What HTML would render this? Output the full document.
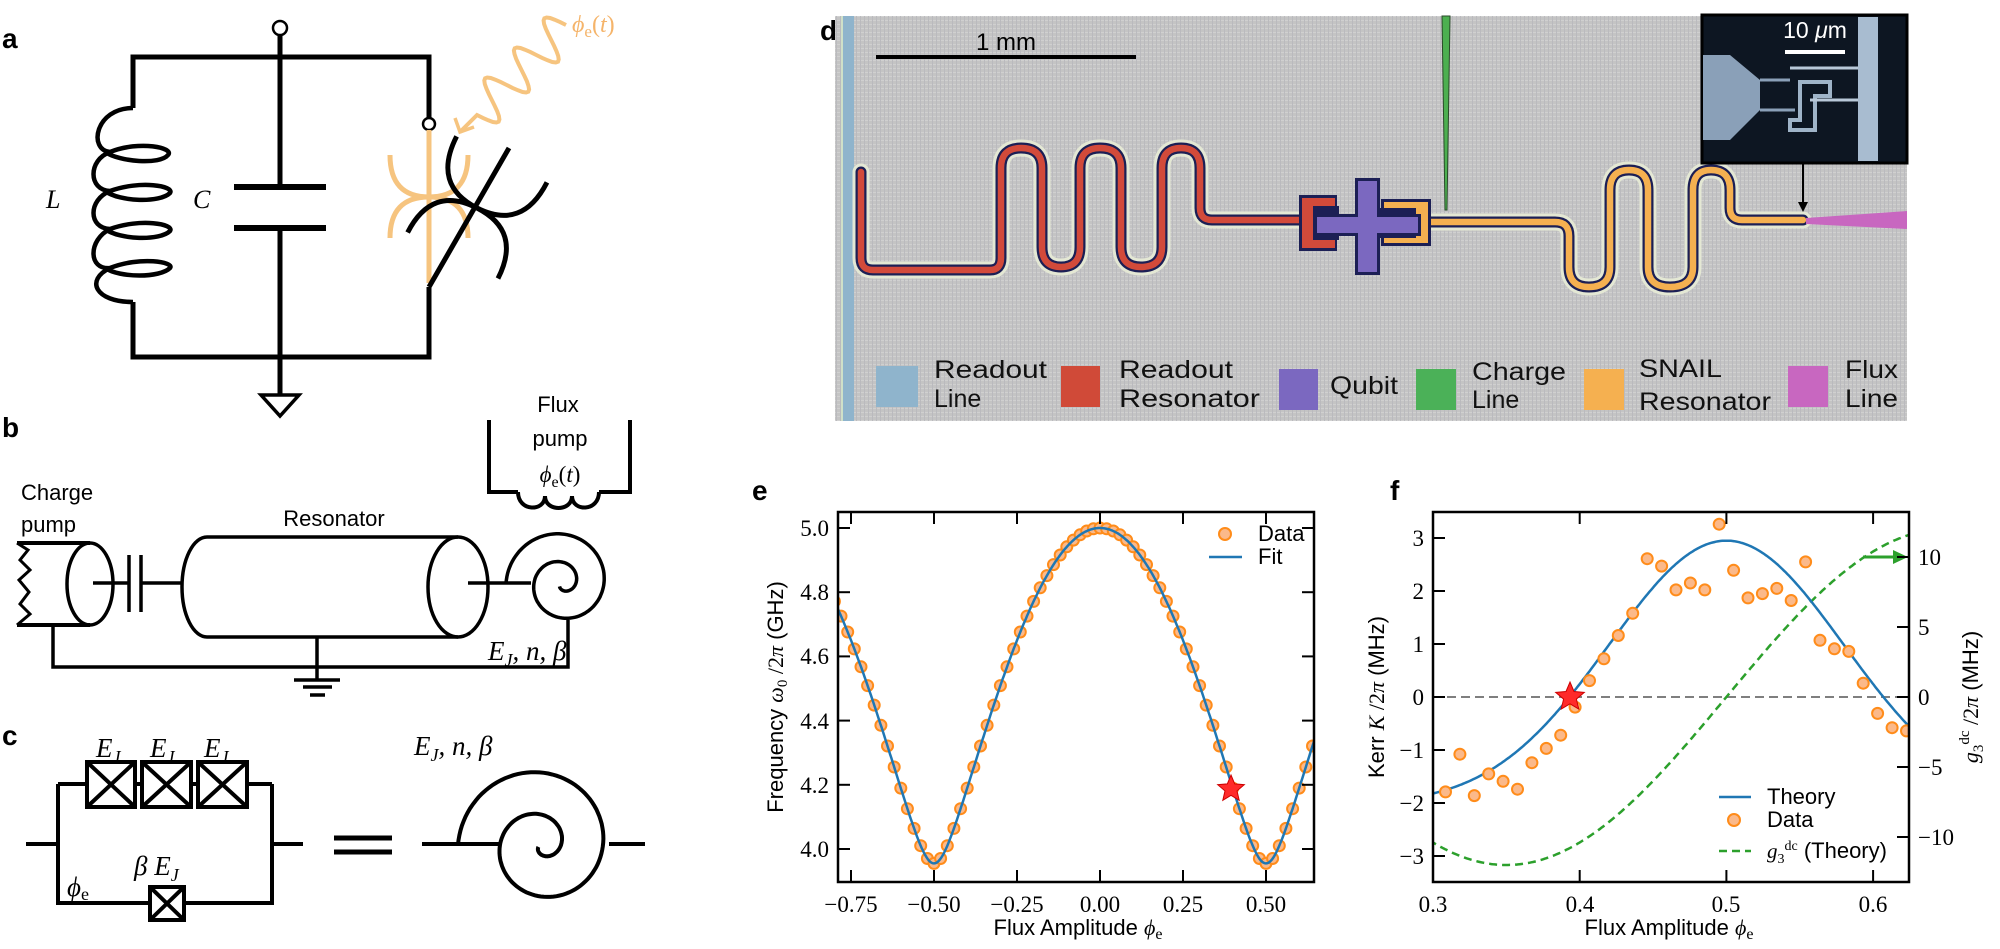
<!DOCTYPE html>
<html><head><meta charset="utf-8"><style>
html,body{margin:0;padding:0;background:#fff;}
svg{display:block;}
.sans{font-family:"Liberation Sans",sans-serif;}
.serif{font-family:"Liberation Serif",serif;}
.tk{font-family:"Liberation Serif",serif;font-size:23px;fill:#000;}
.lbl{font-family:"Liberation Sans",sans-serif;font-size:22px;fill:#000;}
.pl{font-family:"Liberation Sans",sans-serif;font-size:28px;font-weight:bold;fill:#000;}
.leg{font-family:"Liberation Sans",sans-serif;font-size:25px;fill:#111;}
</style></head><body>
<svg id="s" width="2000" height="949" viewBox="0 0 2000 949" xmlns="http://www.w3.org/2000/svg">
<defs>
<pattern id="tex" width="4" height="4" patternUnits="userSpaceOnUse">
<rect width="4" height="4" fill="#c4c4c4"/><rect width="4" height="1" fill="#d0d0d0"/><rect width="1" height="4" fill="#bababe"/>
</pattern>
<clipPath id="ce"><rect x="838" y="512" width="476" height="370"/></clipPath>
<clipPath id="cf"><rect x="1433" y="512" width="476" height="370"/></clipPath>
</defs>

<text class="pl" x="2" y="48">a</text>
<text class="pl" x="2" y="437">b</text>
<text class="pl" x="2" y="745">c</text>
<text class="pl" x="820" y="40">d</text>
<text class="pl" x="752" y="500">e</text>
<text class="pl" x="1390" y="500">f</text>

<!-- Panel a -->
<g fill="none" stroke="#000" stroke-width="5" stroke-linecap="butt">
<path d="M133,108 V57 H429 V122"/>
<path d="M133,302 V357 H429 V287"/>
<path d="M280,35 V187 M280,228 V395"/>
<path d="M234,187 H326 M234,228 H326" stroke-width="6"/>
<path d="M261,395 H299 L280,416 Z" stroke-width="3.5"/>
<path d="M133,108 C95,108 88,150 110,152 C140,140 175,148 168,155 C160,165 120,162 105,152 M110,152 C88,160 88,190 110,191 C140,180 175,186 170,193 C160,203 120,202 105,191 M110,191 C88,200 88,228 110,229 C140,218 175,224 170,231 C160,241 120,240 105,229 M110,229 C88,240 88,270 110,268 C140,256 175,262 170,268 C160,278 120,278 105,268 M110,268 C85,280 95,302 133,302" stroke-width="4.5"/>
</g>
<circle cx="280" cy="28" r="7" fill="#fff" stroke="#000" stroke-width="2.5"/>
<circle cx="429" cy="124" r="6" fill="#fff" stroke="#000" stroke-width="2.5"/>
<text class="serif" x="46" y="208" font-size="26" font-style="italic">L</text>
<text class="serif" x="193" y="208" font-size="26" font-style="italic">C</text>
<g fill="none" stroke="#f6c47f" stroke-width="5">
<path d="M429,130 V283"/>
<path d="M390,155 Q390,197 429,197 Q468,197 468,155 M390,238 Q390,197 429,197 Q468,197 468,238"/>
<path id="wave" d="" stroke-width="4"/>
<path d="M455,118 L460,132 L474,127" stroke-width="3.5"/>
</g>
<g fill="none" stroke="#000" stroke-width="5">
<path d="M429,287 L509,148"/>
<g transform="translate(477,208) rotate(27) scale(1.3)"><path d="M-39,-42 Q-39,0 0,0 Q39,0 39,-42 M-39,41 Q-39,0 0,0 Q39,0 39,41" stroke-width="3.8"/></g>
</g>
<text class="serif" x="572" y="32" font-size="24" font-style="italic" fill="#f5b46a">ϕ<tspan font-style="normal" font-size="17" dy="5">e</tspan><tspan font-style="normal" dy="-5">(</tspan>t<tspan font-style="normal">)</tspan></text>

<!-- Panel b -->
<text class="sans" x="558" y="412" font-size="22" text-anchor="middle">Flux</text>
<text class="sans" x="560" y="446" font-size="22" text-anchor="middle">pump</text>
<text class="serif" x="560" y="482" font-size="23" font-style="italic" text-anchor="middle">ϕ<tspan font-style="normal" font-size="16" dy="5">e</tspan><tspan font-style="normal" dy="-5">(</tspan>t<tspan font-style="normal">)</tspan></text>
<g fill="none" stroke="#000" stroke-width="4">
<path d="M489,420 V492 H518 M599,492 H630 V420"/>
<path d="M518,492 C518,512 545,512 545,496 C545,512 572,512 572,496 C572,512 599,512 599,492"/>
</g>
<text class="sans" x="21" y="500" font-size="22">Charge</text>
<text class="sans" x="21" y="532" font-size="22">pump</text>
<text class="sans" x="334" y="526" font-size="22" text-anchor="middle">Resonator</text>
<g fill="none" stroke="#000" stroke-width="3.5">
<path d="M17,543 H90 M17,625 H90" stroke-width="4"/>
<path d="M17,543 L28,550 L20,560 L30,570 L19,580 L29,592 L20,604 L30,614 L17,625" stroke-width="3"/>
<ellipse cx="90" cy="584" rx="23" ry="41"/>
<path d="M93,583 H129 M141,583 H182"/>
<path d="M129,555 V612 M141,555 V612"/>
<path d="M207,537 H458 M207,637 H458"/>
<path d="M207,537 A25,50 0 0 0 207,637"/>
<ellipse cx="458" cy="587" rx="30" ry="50"/>
<path d="M468,583 H531"/>
<path d="M53,625 V667 H568 V620"/>
<path d="M317,637 V680"/>
<path d="M294,680 H340 M303,687 H332 M310,695 H325"/>
<path id="spb" d=""/>
</g>
<text class="serif" x="488" y="660" font-size="27" font-style="italic">E<tspan font-size="18" dy="6">J</tspan><tspan dy="-6">, n, β</tspan></text>

<!-- Panel c -->
<g class="serif" font-size="27" font-style="italic">
<text x="96" y="757">E<tspan font-size="18" dy="6">J</tspan></text>
<text x="150" y="757">E<tspan font-size="18" dy="6">J</tspan></text>
<text x="204" y="757">E<tspan font-size="18" dy="6">J</tspan></text>
<text x="414" y="755">E<tspan font-size="18" dy="6">J</tspan><tspan dy="-6">, n, β</tspan></text>
<text x="134" y="875">β E<tspan font-size="18" dy="6">J</tspan></text>
<text x="67" y="896">ϕ<tspan font-style="normal" font-size="18" dy="4">e</tspan></text>
</g>
<g fill="none" stroke="#000" stroke-width="4">
<path d="M26,844 H58 M58,784 V903 H150 M184,903 H272 V784 M272,844 H303"/>
<path d="M58,784 H87 M135,784 H142 M191,784 H198 M247,784 H272"/>
<rect x="87" y="762" width="48" height="45"/><path d="M87,762 L135,807 M135,762 L87,807"/>
<rect x="142" y="762" width="49" height="45"/><path d="M142,762 L191,807 M191,762 L142,807"/>
<rect x="198" y="762" width="49" height="45"/><path d="M198,762 L247,807 M247,762 L198,807"/>
<rect x="150" y="887" width="34" height="33"/><path d="M150,887 L184,920 M184,887 L150,920"/>
<path d="M334,838 H392 M334,852 H392" stroke-width="5"/>
<path d="M422,844 H500 M609,844 H645"/>
<path id="spc" d=""/>
</g>

<!-- Panel d -->
<rect x="835" y="16" width="1072" height="405" fill="url(#tex)"/>
<rect x="843" y="16" width="11" height="405" fill="#8fb4cc"/>
<rect x="841" y="16" width="2" height="405" fill="#cfe0c8"/>
<rect x="876" y="55" width="260" height="4" fill="#000"/>
<text class="sans" x="1006" y="50" font-size="24" text-anchor="middle">1 mm</text>
<path d="M1442,16 H1450 L1447,210 H1445 Z" fill="#4caf50" stroke="#2a4a2a" stroke-width="1"/>
<g fill="none" stroke-linecap="round" stroke-linejoin="round">
<path d="M861,172 V258 Q861,270 873,270 H990 Q1001,270 1001,258 V168 Q1001,148 1021,148 Q1042,148 1042,168 V247 Q1042,267 1061,267 Q1080,267 1080,247 V168 Q1080,148 1100,148 Q1121,148 1121,168 V247 Q1121,267 1141,267 Q1162,267 1162,247 V168 Q1162,148 1181,148 Q1200,148 1200,168 V208 Q1200,220 1212,220 H1309" stroke="#e4e8d4" stroke-width="17"/>
<path d="M861,172 V258 Q861,270 873,270 H990 Q1001,270 1001,258 V168 Q1001,148 1021,148 Q1042,148 1042,168 V247 Q1042,267 1061,267 Q1080,267 1080,247 V168 Q1080,148 1100,148 Q1121,148 1121,168 V247 Q1121,267 1141,267 Q1162,267 1162,247 V168 Q1162,148 1181,148 Q1200,148 1200,168 V208 Q1200,220 1212,220 H1309" stroke="#1c1f55" stroke-width="11"/>
<path d="M861,172 V258 Q861,270 873,270 H990 Q1001,270 1001,258 V168 Q1001,148 1021,148 Q1042,148 1042,168 V247 Q1042,267 1061,267 Q1080,267 1080,247 V168 Q1080,148 1100,148 Q1121,148 1121,168 V247 Q1121,267 1141,267 Q1162,267 1162,247 V168 Q1162,148 1181,148 Q1200,148 1200,168 V208 Q1200,220 1212,220 H1309" stroke="#d24a3a" stroke-width="6.5"/>
<path d="M1428,222 H1555 Q1569,222 1569,236 V267 Q1569,287 1589,287 Q1610,287 1610,267 V190 Q1610,170 1629,170 Q1648,170 1648,190 V267 Q1648,287 1670,287 Q1693,287 1693,267 V190 Q1693,170 1711,170 Q1730,170 1730,190 V208 Q1730,220 1742,220 H1803" stroke="#e4e8d4" stroke-width="17"/>
<path d="M1428,222 H1555 Q1569,222 1569,236 V267 Q1569,287 1589,287 Q1610,287 1610,267 V190 Q1610,170 1629,170 Q1648,170 1648,190 V267 Q1648,287 1670,287 Q1693,287 1693,267 V190 Q1693,170 1711,170 Q1730,170 1730,190 V208 Q1730,220 1742,220 H1803" stroke="#1c1f55" stroke-width="11"/>
<path d="M1428,222 H1555 Q1569,222 1569,236 V267 Q1569,287 1589,287 Q1610,287 1610,267 V190 Q1610,170 1629,170 Q1648,170 1648,190 V267 Q1648,287 1670,287 Q1693,287 1693,267 V190 Q1693,170 1711,170 Q1730,170 1730,190 V208 Q1730,220 1742,220 H1803" stroke="#f5b050" stroke-width="6.5"/>
</g>
<rect x="1299" y="195" width="38" height="56" fill="#1c1f55"/>
<rect x="1302" y="198" width="33" height="50" fill="#d24a3a"/>
<rect x="1313" y="206" width="26" height="34" fill="#1c1f55"/>
<rect x="1381" y="199" width="50" height="47" fill="#1c1f55"/>
<rect x="1384" y="202" width="44" height="41" fill="#f5b050"/>
<rect x="1378" y="208" width="38" height="30" fill="#1c1f55"/>
<path d="M1355,178 H1380 V214 H1421 V236 H1380 V275 H1355 V236 H1314 V214 H1355 Z" fill="#1c1f55"/>
<path d="M1358,181 H1377 V217 H1418 V233 H1377 V272 H1358 V233 H1317 V217 H1358 Z" fill="#7b68c0"/>
<path d="M1806,218 L1907,211 V229 L1806,224 Z" fill="#c867c0"/>
<rect x="1702" y="15" width="205" height="148" fill="#0d1622" stroke="#000" stroke-width="3"/>
<rect x="1858" y="17" width="20" height="144" fill="#a8bcd0"/>
<path d="M1703,55 H1730 L1760,80 V110 L1730,140 H1703 Z" fill="#8aa0b8"/>
<path d="M1760,80 H1790 M1760,110 H1795" stroke="#8aa0b8" stroke-width="3"/>
<path d="M1800,82 H1830 V96 H1815 V130 H1790 V120 H1800 Z" fill="none" stroke="#9fb4c8" stroke-width="4"/>
<path d="M1790,68 H1858 M1810,100 H1858" stroke="#b8c8d8" stroke-width="3"/>
<rect x="1785" y="50" width="60" height="4" fill="#fff"/>
<text class="sans" x="1815" y="38" font-size="23" fill="#fff" text-anchor="middle">10 <tspan font-style="italic">μ</tspan>m</text>
<path d="M1803,163 V205" stroke="#000" stroke-width="2"/>
<path d="M1798,202 L1803,212 L1808,202 Z" fill="#000"/>
<rect x="876" y="366" width="42" height="41" fill="#8fb4cc"/>
<rect x="1061" y="366" width="39" height="41" fill="#d04a38"/>
<rect x="1279" y="369" width="39" height="41" fill="#7b68c0"/>
<rect x="1416" y="369" width="40" height="41" fill="#4bb158"/>
<rect x="1584" y="369" width="40" height="41" fill="#f5b050"/>
<rect x="1788" y="366" width="40" height="41" fill="#c867c0"/>
<g class="leg">
<text x="934" y="378" textLength="113" lengthAdjust="spacingAndGlyphs">Readout</text>
<text x="934" y="407">Line</text>
<text x="1119" y="378" textLength="114" lengthAdjust="spacingAndGlyphs">Readout</text>
<text x="1119" y="407" textLength="141" lengthAdjust="spacingAndGlyphs">Resonator</text>
<text x="1330" y="394" textLength="68" lengthAdjust="spacingAndGlyphs">Qubit</text>
<text x="1472" y="380" textLength="94" lengthAdjust="spacingAndGlyphs">Charge</text>
<text x="1472" y="408">Line</text>
<text x="1639" y="377" textLength="83" lengthAdjust="spacingAndGlyphs">SNAIL</text>
<text x="1639" y="410" textLength="132" lengthAdjust="spacingAndGlyphs">Resonator</text>
<text x="1845" y="378" textLength="53" lengthAdjust="spacingAndGlyphs">Flux</text>
<text x="1845" y="407" textLength="53" lengthAdjust="spacingAndGlyphs">Line</text>
</g>

<!-- Panel e -->
<g id="eplot" clip-path="url(#ce)"></g>
<rect x="838" y="512" width="476" height="370" fill="none" stroke="#000" stroke-width="2.5"/>
<g id="eticks" stroke="#000" stroke-width="2"></g>
<g class="tk" text-anchor="middle">
<text x="851" y="912">−0.75</text><text x="934" y="912">−0.50</text><text x="1017" y="912">−0.25</text>
<text x="1100" y="912">0.00</text><text x="1183" y="912">0.25</text><text x="1266" y="912">0.50</text>
</g>
<g class="tk" text-anchor="end">
<text x="829" y="536">5.0</text><text x="829" y="600">4.8</text><text x="829" y="664">4.6</text>
<text x="829" y="729">4.4</text><text x="829" y="793">4.2</text><text x="829" y="857">4.0</text>
</g>
<text class="lbl" x="1078" y="935" text-anchor="middle">Flux Amplitude <tspan class="serif" font-style="italic">ϕ</tspan><tspan class="serif" font-size="16" dy="4">e</tspan></text>
<text class="lbl" transform="translate(783,697) rotate(-90)" text-anchor="middle">Frequency <tspan class="serif" font-style="italic">ω</tspan><tspan class="serif" font-size="15" dy="4">0</tspan><tspan class="serif" dy="-4"> /2</tspan><tspan class="serif" font-style="italic">π</tspan> (GHz)</text>
<circle cx="1225" cy="534" r="6" fill="#fbb98a" stroke="#ff8c1a" stroke-width="2"/>
<text class="lbl" x="1258" y="541" font-size="20">Data</text>
<line x1="1209" y1="557" x2="1242" y2="557" stroke="#1f77b4" stroke-width="2.5"/>
<text class="lbl" x="1258" y="564" font-size="20">Fit</text>

<!-- Panel f -->
<g id="fplot" clip-path="url(#cf)"></g>
<rect x="1433" y="512" width="476" height="370" fill="none" stroke="#000" stroke-width="2.5"/>
<g id="fticks" stroke="#000" stroke-width="2"></g>
<g class="tk" text-anchor="middle">
<text x="1433" y="912">0.3</text><text x="1580" y="912">0.4</text><text x="1726" y="912">0.5</text><text x="1873" y="912">0.6</text>
</g>
<g class="tk" text-anchor="end">
<text x="1424" y="546">3</text><text x="1424" y="599">2</text><text x="1424" y="652">1</text><text x="1424" y="705">0</text>
<text x="1424" y="758">−1</text><text x="1424" y="811">−2</text><text x="1424" y="864">−3</text>
</g>
<g class="tk" text-anchor="start">
<text x="1918" y="565">10</text><text x="1918" y="635">5</text><text x="1918" y="705">0</text>
<text x="1918" y="775">−5</text><text x="1918" y="845">−10</text>
</g>
<text class="lbl" x="1669" y="935" text-anchor="middle">Flux Amplitude <tspan class="serif" font-style="italic">ϕ</tspan><tspan class="serif" font-size="16" dy="4">e</tspan></text>
<text class="lbl" transform="translate(1384,697) rotate(-90)" text-anchor="middle">Kerr <tspan class="serif" font-style="italic">K</tspan><tspan class="serif"> /2</tspan><tspan class="serif" font-style="italic">π</tspan> (MHz)</text>
<text class="lbl" transform="translate(1978,697) rotate(-90)" text-anchor="middle"><tspan class="serif" font-style="italic">g</tspan><tspan class="serif" font-size="15" dy="5">3</tspan><tspan class="serif" font-size="15" dy="-14">dc</tspan><tspan class="serif" dy="9"> /2</tspan><tspan class="serif" font-style="italic">π</tspan> (MHz)</text>
<line x1="1719" y1="797" x2="1751" y2="797" stroke="#1f77b4" stroke-width="2.5"/>
<text class="lbl" x="1767" y="804" font-size="19">Theory</text>
<circle cx="1734" cy="820" r="6" fill="#fbb98a" stroke="#ff8c1a" stroke-width="2"/>
<text class="lbl" x="1767" y="827" font-size="19">Data</text>
<line x1="1719" y1="851" x2="1751" y2="851" stroke="#2ca02c" stroke-width="2.5" stroke-dasharray="8,5"/>
<text class="lbl" x="1767" y="858" font-size="19"><tspan class="serif" font-style="italic" font-size="21">g</tspan><tspan class="serif" font-size="14" dy="5">3</tspan><tspan class="serif" font-size="14" dy="-13">dc</tspan><tspan dy="8"> (Theory)</tspan></text>
</svg>
<script>
(function(){
var NS="http://www.w3.org/2000/svg";
function el(p,t,a){var e=document.createElementNS(NS,t);for(var k in a)e.setAttribute(k,a[k]);p.appendChild(e);return e;}
var w="";for(var i=0;i<=60;i++){var t=i/60;var x=477+(566-477)*t,y=115+(25-115)*t;var a=20*Math.sin(t*2*Math.PI*3);var nx=0.71,ny=0.71;w+="L"+(x+a*nx).toFixed(1)+","+(y+a*ny).toFixed(1);}
document.getElementById('wave').setAttribute('d',"M460,132 L477,115 "+w);
function spiral(cx,cy,r0,dr,th1){var d="";for(var i=0;i<=200;i++){var th=th1*i/200;var r=r0-dr*th/(2*Math.PI);var x=cx-r*Math.cos(th),y=cy-r*Math.sin(th);d+=(i?"L":"M")+x.toFixed(1)+","+y.toFixed(1);}return d;}
document.getElementById('spc').setAttribute('d',spiral(541,845,83,42,3.8*Math.PI));
document.getElementById('spb').setAttribute('d',spiral(562,583,56,28,3.7*Math.PI));
var ge=document.getElementById('eplot');
function Xe(p){return 1100+332*p;} function Ye(f){return 849-321*(f-4);}
var A=0.15,N=Math.sqrt(1+A*A)-A;
function fq(p){var c=Math.cos(Math.PI*p);return 3.955+1.045*(Math.sqrt(c*c+A*A)-A)/N;}
for(var p=-0.8;p<=0.66;p+=0.02){el(ge,'circle',{cx:Xe(p).toFixed(1),cy:Ye(fq(p)).toFixed(1),r:5.5,fill:'#fbb98a',stroke:'#ff8c1a','stroke-width':2});}
var d="";for(var i=0;i<=400;i++){var p=-0.8+1.46*i/400;d+=(i?"L":"M")+Xe(p).toFixed(1)+","+Ye(fq(p)).toFixed(1);}
el(ge,'path',{d:d,fill:'none',stroke:'#1f77b4','stroke-width':2.5});
function star(g,cx,cy,R){var d="";for(var i=0;i<10;i++){var r=i%2?R*0.45:R;var a=-Math.PI/2+i*Math.PI/5;d+=(i?"L":"M")+(cx+r*Math.cos(a)).toFixed(1)+","+(cy+r*Math.sin(a)).toFixed(1);}el(g,'path',{d:d+"Z",fill:'#ff2a2a',stroke:'#c00','stroke-width':1});}
star(ge,1231,789,14);
var te=document.getElementById('eticks');
[-0.75,-0.5,-0.25,0,0.25,0.5].forEach(function(p){var x=Xe(p);el(te,'line',{x1:x,y1:882,x2:x,y2:870});el(te,'line',{x1:x,y1:512,x2:x,y2:524});});
[4,4.2,4.4,4.6,4.8,5].forEach(function(f){var y=Ye(f);el(te,'line',{x1:838,y1:y,x2:850,y2:y});el(te,'line',{x1:1314,y1:y,x2:1302,y2:y});});
var gf=document.getElementById('fplot');
function Xf(p){return 1433+1467*(p-0.3);} function YK(k){return 697-53*k;} function YG(g){return 697-14*g;}
el(gf,'line',{x1:1433,y1:697,x2:1909,y2:697,stroke:'#7f7f7f','stroke-width':2,'stroke-dasharray':'9,5'});
var dk="",dg="";for(var i=0;i<=300;i++){var p=0.29+0.34*i/300;var dd=p-0.5;var K=-2.04+4.99*Math.exp(-dd*dd/(2*0.08*0.08));var G=12*Math.sin(Math.PI*dd/0.3);
dk+=(i?"L":"M")+Xf(p).toFixed(1)+","+YK(K).toFixed(1);dg+=(i?"L":"M")+Xf(p).toFixed(1)+","+YG(G).toFixed(1);}
el(gf,'path',{d:dg,fill:'none',stroke:'#2ca02c','stroke-width':2.5,'stroke-dasharray':'8,5'});
el(gf,'path',{d:dk,fill:'none',stroke:'#1f77b4','stroke-width':2.5});
var Kd=[-1.79,-1.08,-1.86,-1.45,-1.59,-1.74,-1.24,-0.97,-0.72,-0.19,0.31,0.72,1.16,1.58,2.61,2.47,2.02,2.15,2.02,3.26,2.39,1.87,1.95,2.05,1.82,2.55,1.07,0.91,0.86,0.26,-0.31,-0.58,-0.64];
Kd.forEach(function(k,i){var p=0.3085+i*0.00982;el(gf,'circle',{cx:Xf(p).toFixed(1),cy:YK(k).toFixed(1),r:5.5,fill:'#fbb98a',stroke:'#ff8c1a','stroke-width':2});});
star(gf,1570,697,15);
el(gf,'line',{x1:1863,y1:557,x2:1895,y2:557,stroke:'#2ca02c','stroke-width':3});
el(gf,'path',{d:'M1893,550 L1908,557 L1893,564 Z',fill:'#2ca02c'});
var tf=document.getElementById('fticks');
[0.3,0.4,0.5,0.6].forEach(function(p){var x=Xf(p);el(tf,'line',{x1:x,y1:882,x2:x,y2:870});el(tf,'line',{x1:x,y1:512,x2:x,y2:524});});
[-3,-2,-1,0,1,2,3].forEach(function(k){var y=YK(k);el(tf,'line',{x1:1433,y1:y,x2:1445,y2:y});});
[-10,-5,0,5,10].forEach(function(g){var y=YG(g);el(tf,'line',{x1:1909,y1:y,x2:1897,y2:y});});
})();
</script>
</body></html>
